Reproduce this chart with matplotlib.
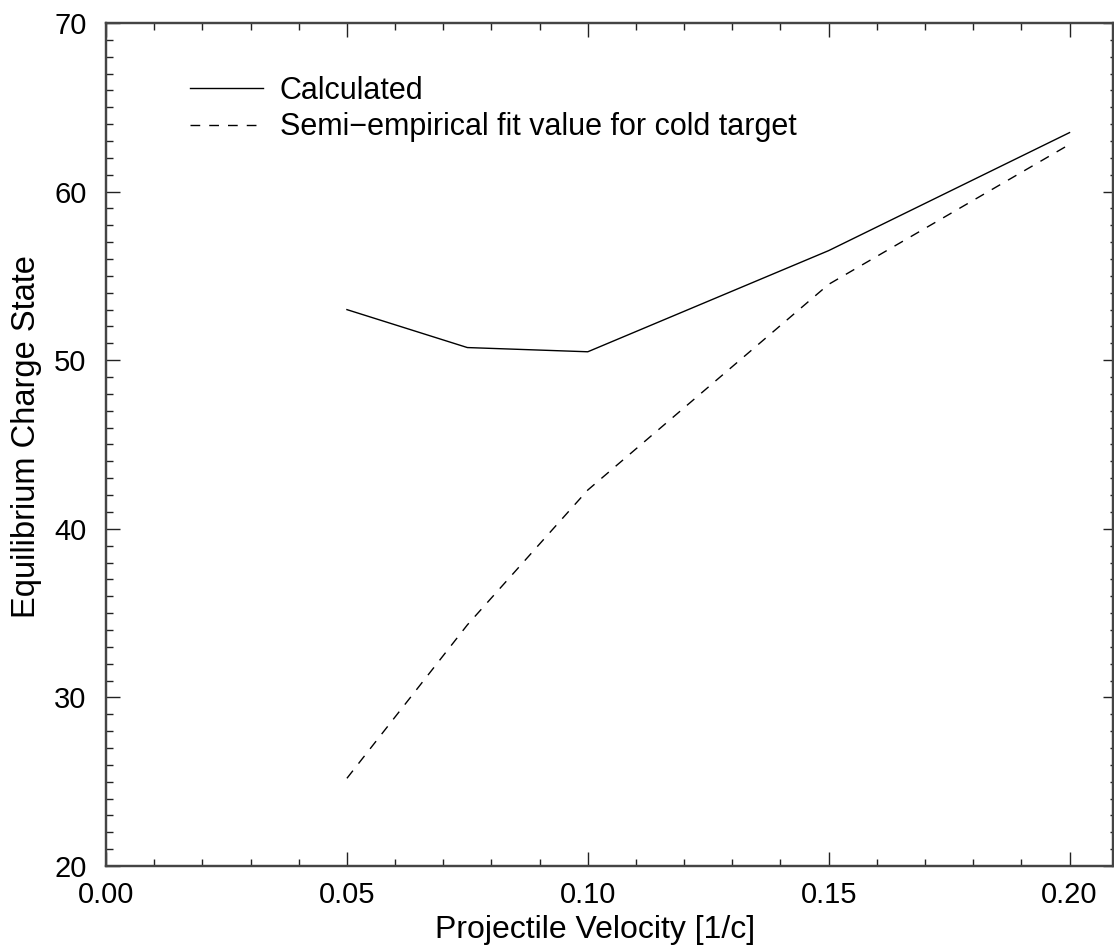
import numpy as np
import matplotlib.pyplot as plt
from matplotlib.ticker import MultipleLocator, FormatStrFormatter

plt.rcParams['font.family'] = ['Liberation Sans', 'DejaVu Sans']

# Equilibrium charge state vs projectile velocity
velocity = [0.05, 0.075, 0.10, 0.15, 0.20]
calculated = [53.0, 50.75, 50.5, 56.5, 63.5]
semi_empirical = [25.2, 34.3, 42.3, 54.5, 62.8]

fig = plt.figure(figsize=(11.14, 9.51), dpi=100)
ax = fig.add_axes([0.0952, 0.0894, 0.9038, 0.8864])

ax.plot(velocity, calculated, color='black', lw=1.0, label='Calculated')
ax.plot(velocity, semi_empirical, color='black', lw=1.0, dashes=(7, 6.5),
        label='Semi\u2212empirical fit value for cold target')

ax.set_xlim(0, 0.209)
ax.set_ylim(20, 70)
ax.xaxis.set_major_locator(MultipleLocator(0.05))
ax.xaxis.set_minor_locator(MultipleLocator(0.01))
ax.yaxis.set_major_locator(MultipleLocator(10))
ax.yaxis.set_minor_locator(MultipleLocator(1))
ax.xaxis.set_major_formatter(FormatStrFormatter('%.2f'))

ax.tick_params(which='both', direction='in', top=True, right=False,
               color='#222222', width=1.0, labelsize=21)
ax.tick_params(which='major', length=10)
ax.tick_params(which='minor', length=5)
ax.tick_params(axis='y', pad=14)
ax.tick_params(axis='x', pad=11)

# short ticks on the right-hand side
ax_r = ax.twinx()
ax_r.set_ylim(ax.get_ylim())
ax_r.yaxis.set_major_locator(MultipleLocator(10))
ax_r.yaxis.set_minor_locator(MultipleLocator(1))
ax_r.tick_params(which='both', direction='in', labelright=False,
                 color='#222222', width=1.0)
ax_r.tick_params(which='major', length=7)
ax_r.tick_params(which='minor', length=2)

for a in (ax, ax_r):
    for s in a.spines.values():
        s.set_linewidth(1.6)
        s.set_color('#444444')

ax.set_xlabel('Projectile Velocity [1/c]', fontsize=23)
ax.set_ylabel('Equilibrium Charge State', fontsize=23.5)
ax.xaxis.set_label_coords(0.486, -0.058)
ax.yaxis.set_label_coords(-0.0636, 0.51)

ax.legend(loc='upper left', bbox_to_anchor=(0.083, 0.937), frameon=False,
          fontsize=22, handlelength=2.4, handletextpad=0.55,
          labelspacing=0.2, borderpad=0, borderaxespad=0)

fig.savefig('out.png', dpi=100)
